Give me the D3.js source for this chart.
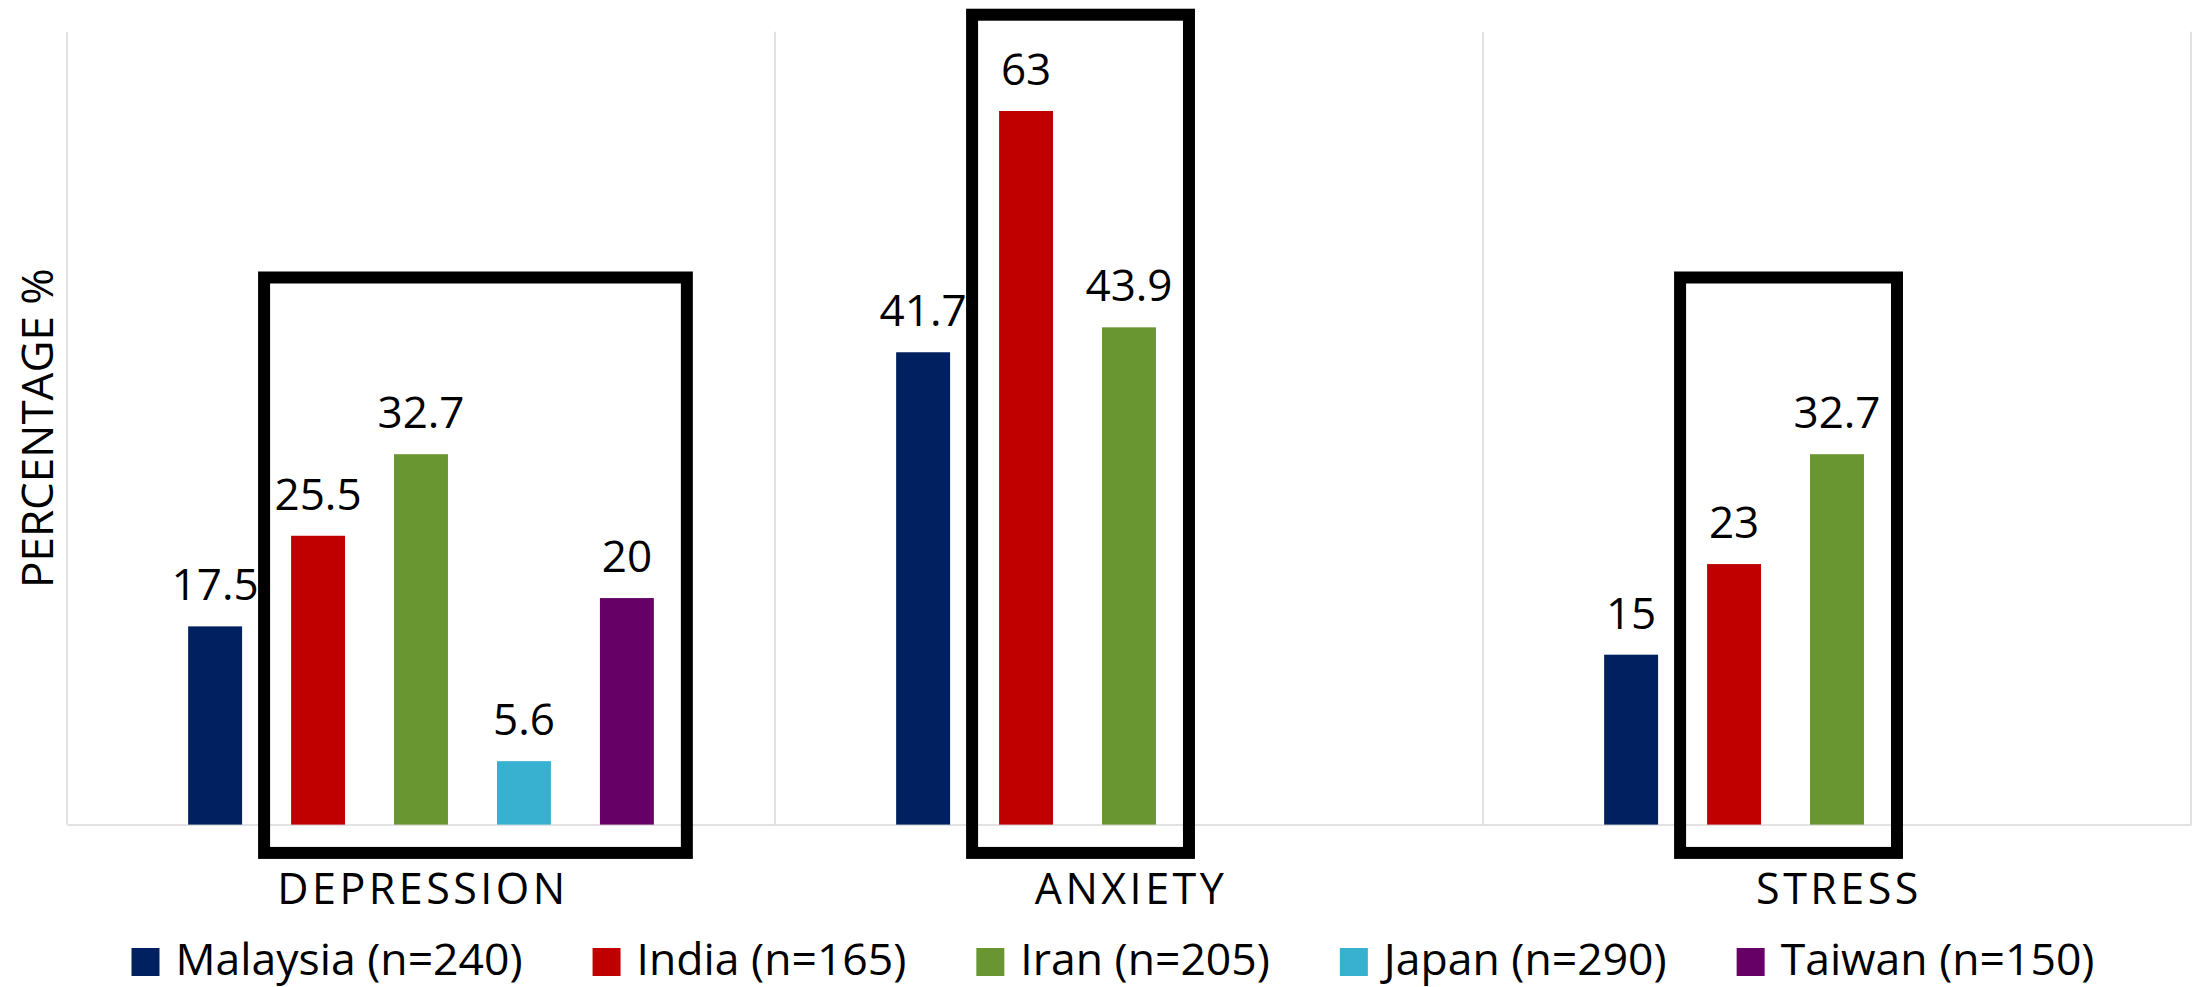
<!DOCTYPE html>
<html>
<head>
<meta charset="utf-8">
<script src="https://cdn.jsdelivr.net/npm/d3@7"></script>
<style>
  html, body { margin: 0; padding: 0; background: #fff; }
  svg { display: block; }
  text { font-family: "Open Sans", "Noto Sans", sans-serif; fill: #000; }
</style>
</head>
<body>
<svg id="chart" width="2193" height="987"></svg>
<script>
// ---- data ----
const categories = ["DEPRESSION", "ANXIETY", "STRESS"];
const seriesNames = ["Malaysia (n=240)", "India (n=165)", "Iran (n=205)", "Japan (n=290)", "Taiwan (n=150)"];
const malaysia = [17.5, 41.7, 15];
const india    = [25.5, 63, 23];
const iran     = [32.7, 43.9, 32.7];
const japan    = [5.6, null, null];
const taiwan   = [20, null, null];
const seriesColors = ["#002060", "#C00000", "#6A9632", "#38B0D0", "#660066"];
const yTitle = "PERCENTAGE %";
const yMax = 70;
// highlight boxes: category, first & last series covered, top value
const highlights = [
  { category: "DEPRESSION", from: "India (n=165)", to: "Taiwan (n=150)", top: 48.3 },
  { category: "ANXIETY",    from: "India (n=165)", to: "Iran (n=205)",   top: 71.5 },
  { category: "STRESS",     from: "India (n=165)", to: "Iran (n=205)",   top: 48.3 }
];

const seriesValues = [malaysia, india, iran, japan, taiwan];
const data = categories.map((c, ci) => ({
  category: c,
  values: seriesNames.map((s, si) => ({ series: s, value: seriesValues[si][ci], color: seriesColors[si] }))
}));

// ---- layout ----
const svg = d3.select("#chart");
const plotLeft = 67, plotRight = 2191, plotTop = 31.7, plotBottom = 824.6;

const x0 = d3.scaleBand().domain(categories).range([plotLeft, plotRight]).padding(0);
const bw = x0.bandwidth();
const groupFrac = 0.727;
const gOff = bw * (1 - groupFrac) / 2;
const x1 = d3.scaleBand().domain(seriesNames).range([gOff, bw - gOff])
  .paddingInner(0.476).paddingOuter(0.238);
const y = d3.scaleLinear().domain([0, yMax]).range([plotBottom, plotTop]);

const gridColor = "#d9d9d9";

// vertical category separators
const seps = categories.map(c => x0(c)).concat([plotRight]);
svg.append("g").selectAll("line").data(seps).join("line")
  .attr("x1", d => d).attr("x2", d => d)
  .attr("y1", plotTop).attr("y2", plotBottom)
  .attr("stroke", gridColor).attr("stroke-width", 1.5);

// baseline axis
const xAxis = svg.append("g").attr("transform", `translate(0,${plotBottom})`)
  .call(d3.axisBottom(x0).tickSize(0).tickPadding(0).tickFormat(""));
xAxis.select(".domain").attr("stroke", gridColor).attr("stroke-width", 1.5);

// bars
const groups = svg.append("g").selectAll("g").data(data).join("g")
  .attr("transform", d => `translate(${x0(d.category)},0)`);

groups.selectAll("rect").data(d => d.values.filter(v => v.value != null)).join("rect")
  .attr("x", d => x1(d.series))
  .attr("width", x1.bandwidth())
  .attr("y", d => y(d.value))
  .attr("height", d => y(0) - y(d.value))
  .attr("fill", d => d.color);

groups.selectAll("text.val").data(d => d.values.filter(v => v.value != null)).join("text")
  .attr("class", "val")
  .attr("x", d => x1(d.series) + x1.bandwidth() / 2)
  .attr("y", d => y(d.value) - 26)
  .attr("text-anchor", "middle")
  .attr("font-size", 44)
  .text(d => d.value);

// highlight boxes
const boxLeftPad = 27, boxRightPad = 33, boxBottom = -2.5;
svg.append("g").selectAll("rect").data(highlights).join("rect")
  .attr("x", d => x0(d.category) + x1(d.from) - boxLeftPad)
  .attr("width", d => (x1(d.to) + x1.bandwidth() + boxRightPad) - (x1(d.from) - boxLeftPad))
  .attr("y", d => y(d.top))
  .attr("height", d => y(boxBottom) - y(d.top))
  .attr("fill", "none")
  .attr("stroke", "#000")
  .attr("stroke-width", 12);

// category labels
svg.append("g").selectAll("text").data(categories).join("text")
  .attr("x", d => x0(d) + bw / 2 + 2)
  .attr("y", 904)
  .attr("text-anchor", "middle")
  .attr("font-size", 43)
  .attr("letter-spacing", 3.5)
  .text(d => d);

// y title
svg.append("text")
  .attr("transform", `translate(53,${(plotTop + plotBottom) / 2}) rotate(-90)`)
  .attr("text-anchor", "middle")
  .attr("font-size", 44)
  .text(yTitle);

// legend
const legend = svg.append("g");
const sq = 28, sqGap = 16, itemGap = 70, legendBaseline = 975;
let lx = 0;
const items = legend.selectAll("g").data(seriesNames).join("g");
items.append("rect")
  .attr("width", sq).attr("height", sq)
  .attr("y", legendBaseline - sq + 1)
  .attr("fill", (d, i) => seriesColors[i]);
items.append("text")
  .attr("x", sq + sqGap)
  .attr("y", legendBaseline)
  .attr("font-size", 44.5)
  .text(d => d);
items.each(function () {
  const g = d3.select(this);
  const w = sq + sqGap + g.select("text").node().getComputedTextLength();
  g.attr("transform", `translate(${lx},0)`);
  lx += w + itemGap;
});
const totalW = lx - itemGap;
legend.attr("transform", `translate(${1113 - totalW / 2},0)`);
</script>
</body>
</html>
